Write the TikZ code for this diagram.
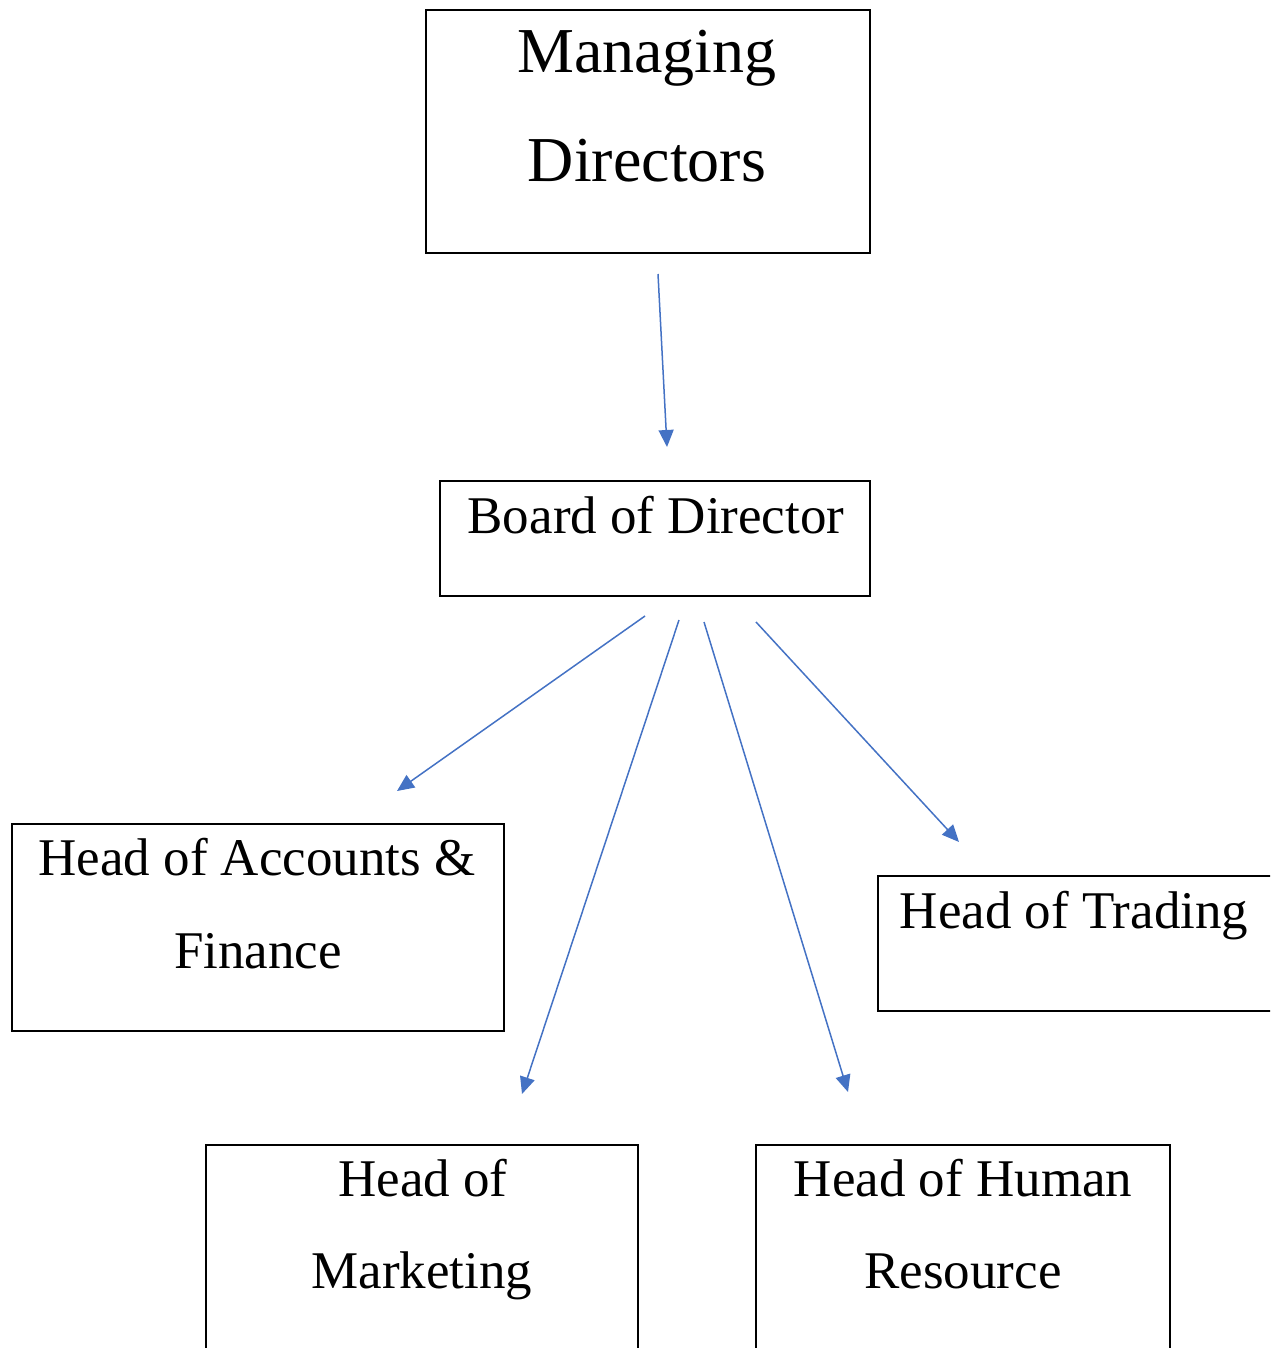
\documentclass[tikz,border=0pt]{standalone}
\usepackage{fontspec}
\setmainfont{Liberation Serif}
\usetikzlibrary{arrows.meta}
\definecolor{arrowblue}{HTML}{4472C4}
\begin{document}
\begin{tikzpicture}[x=1pt,y=-1pt,
  box/.style={draw=black,line width=2pt,inner sep=0pt,anchor=north west},
  big/.style={font=\fontsize{64}{70}\selectfont,anchor=base,inner sep=0pt},
  txt/.style={font=\fontsize{53}{60}\selectfont,anchor=base,inner sep=0pt},
  conn/.style={draw=arrowblue,line width=1.5pt,-{Triangle[length=17pt,width=15pt]}}]
\useasboundingbox (0,0) rectangle (1270,1348);
\clip (0,0) rectangle (1270,1348);
% boxes
\node[box,minimum width=444pt,minimum height=243pt] (md) at (425,9) {};
\node[box,minimum width=430pt,minimum height=115pt] (bd) at (439,480) {};
\node[box,minimum width=492pt,minimum height=207pt] (acc) at (11,823) {};
\node[box,minimum width=420pt,minimum height=135pt] (trd) at (877,875) {};
\node[box,minimum width=432pt,minimum height=230pt] (mkt) at (205,1144) {};
\node[box,minimum width=414pt,minimum height=230pt] (hr) at (755,1144) {};
% texts
\node[big] (mdt1) at (647,73) {Managing};
\node[big] (mdt2) at (647,182) {Directors};
\node[txt] (bdt) at (656,533) {Board of Director};
\node[txt] (acct1) at (257,875) {Head of Accounts \&};
\node[txt] (acct2) at (258,968) {Finance};
\node[txt] (trdt) at (1074,928) {Head of Trading};
\node[txt] (mktt1) at (423,1196) {Head of};
\node[txt] (mktt2) at (422,1288) {Marketing};
\node[txt] (hrt1) at (963,1196) {Head of Human};
\node[txt] (hrt2) at (963,1288) {Resource};
% connector ends
\coordinate (a1s) at (658,274); \coordinate (a1e) at (667,447);
\coordinate (a2s) at (645,616); \coordinate (a2e) at (397,791);
\coordinate (a3s) at (679,620); \coordinate (a3e) at (522,1094);
\coordinate (a4s) at (704,622); \coordinate (a4e) at (848,1092);
\coordinate (a5s) at (756,622); \coordinate (a5e) at (959,842);
\draw[conn] (a1s) -- (a1e);
\draw[conn] (a2s) -- (a2e);
\draw[conn] (a3s) -- (a3e);
\draw[conn] (a4s) -- (a4e);
\draw[conn] (a5s) -- (a5e);
\end{tikzpicture}
\end{document}
